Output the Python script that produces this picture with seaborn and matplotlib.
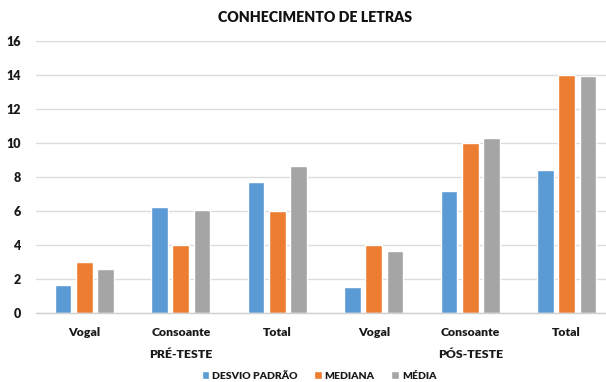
import matplotlib
matplotlib.use("Agg")
import matplotlib.pyplot as plt
import matplotlib.transforms as mtransforms
import seaborn as sns
import pandas as pd

# Data
categorias = ["Vogal", "Consoante", "Total", "Vogal", "Consoante", "Total"]
fases = ["PRÉ-TESTE", "PRÉ-TESTE", "PRÉ-TESTE", "PÓS-TESTE", "PÓS-TESTE", "PÓS-TESTE"]
medidas = ["DESVIO PADRÃO", "MEDIANA", "MÉDIA"]
desvio_padrao = [1.63, 6.25, 7.69, 1.55, 7.15, 8.44]
mediana = [3, 4, 6, 4, 10, 14]
media = [2.58, 6.06, 8.67, 3.63, 10.31, 13.92]
cores = ["#5B9BD5", "#ED7D31", "#A5A5A5"]
yticks = [0, 2, 4, 6, 8, 10, 12, 14, 16]

# Long-format table; each category gets a unique key so repeated names stay separate
chaves = [f"{f}|{c}" for f, c in zip(fases, categorias)]
linhas = []
for nome, valores in zip(medidas, [desvio_padrao, mediana, media]):
    for k, v in zip(chaves, valores):
        linhas.append({"chave": k, "medida": nome, "valor": v})
df = pd.DataFrame(linhas)

sns.set_theme(style="white")
plt.rcParams["font.family"] = ["Lato", "DejaVu Sans"]

PESO = "heavy"
TXT = "#1a1a1a"

W, H = 606, 382
fig = plt.figure(figsize=(W / 100, H / 100), dpi=100)
ax = fig.add_axes([36 / W, 69 / H, (615 - 36) / W, 272 / H])

sns.barplot(data=df, x="chave", y="valor", hue="medida", order=chaves,
            hue_order=medidas, palette=cores, width=0.66, gap=0.21,
            saturation=1, ax=ax, legend=True)

ax.set_xlim(-0.5, 5.5)
ax.set_ylim(0, 16)
ax.set_yticks(yticks)
ax.set_yticklabels([str(t) for t in yticks], fontsize=9, fontweight=PESO, color=TXT)
ax.set_xticks(range(len(categorias)))
ax.set_xticklabels(categorias, fontsize=8.8, fontweight=PESO, color=TXT)
ax.tick_params(axis="both", length=0)
ax.tick_params(axis="y", pad=11)
ax.tick_params(axis="x", pad=10)
ax.set_xlabel("")
ax.set_ylabel("")
ax.grid(axis="y", color="#dcdcdc", linewidth=1)
ax.set_axisbelow(True)
for s in ["top", "right", "left"]:
    ax.spines[s].set_visible(False)
ax.spines["bottom"].set_color("#d0d0d0")
ax.spines["bottom"].set_linewidth(1)

# Phase labels under the middle category of each group
trans = mtransforms.blended_transform_factory(ax.transData, fig.transFigure)
for xc, nome in [(1, "PRÉ-TESTE"), (4, "PÓS-TESTE")]:
    ax.text(xc, (H - 355) / H, nome, transform=trans, ha="center", va="center",
            fontsize=8.8, fontweight=PESO, color=TXT)

fig.text(315 / W, (H - 17) / H, "CONHECIMENTO DE LETRAS", ha="center", va="center",
         fontsize=10.2, fontweight=PESO, color="#111111")

handles, labels = ax.get_legend_handles_labels()
ax.get_legend().remove()
leg = fig.legend(handles, labels, loc="center", bbox_to_anchor=(319 / W, (H - 376) / H),
                 ncol=3, frameon=False, fontsize=7.5, handlelength=0.7, handleheight=0.7,
                 handletextpad=0.3, columnspacing=1.6)
for t in leg.get_texts():
    t.set_fontweight(PESO)
    t.set_color(TXT)

fig.savefig("out.png", dpi=100)
